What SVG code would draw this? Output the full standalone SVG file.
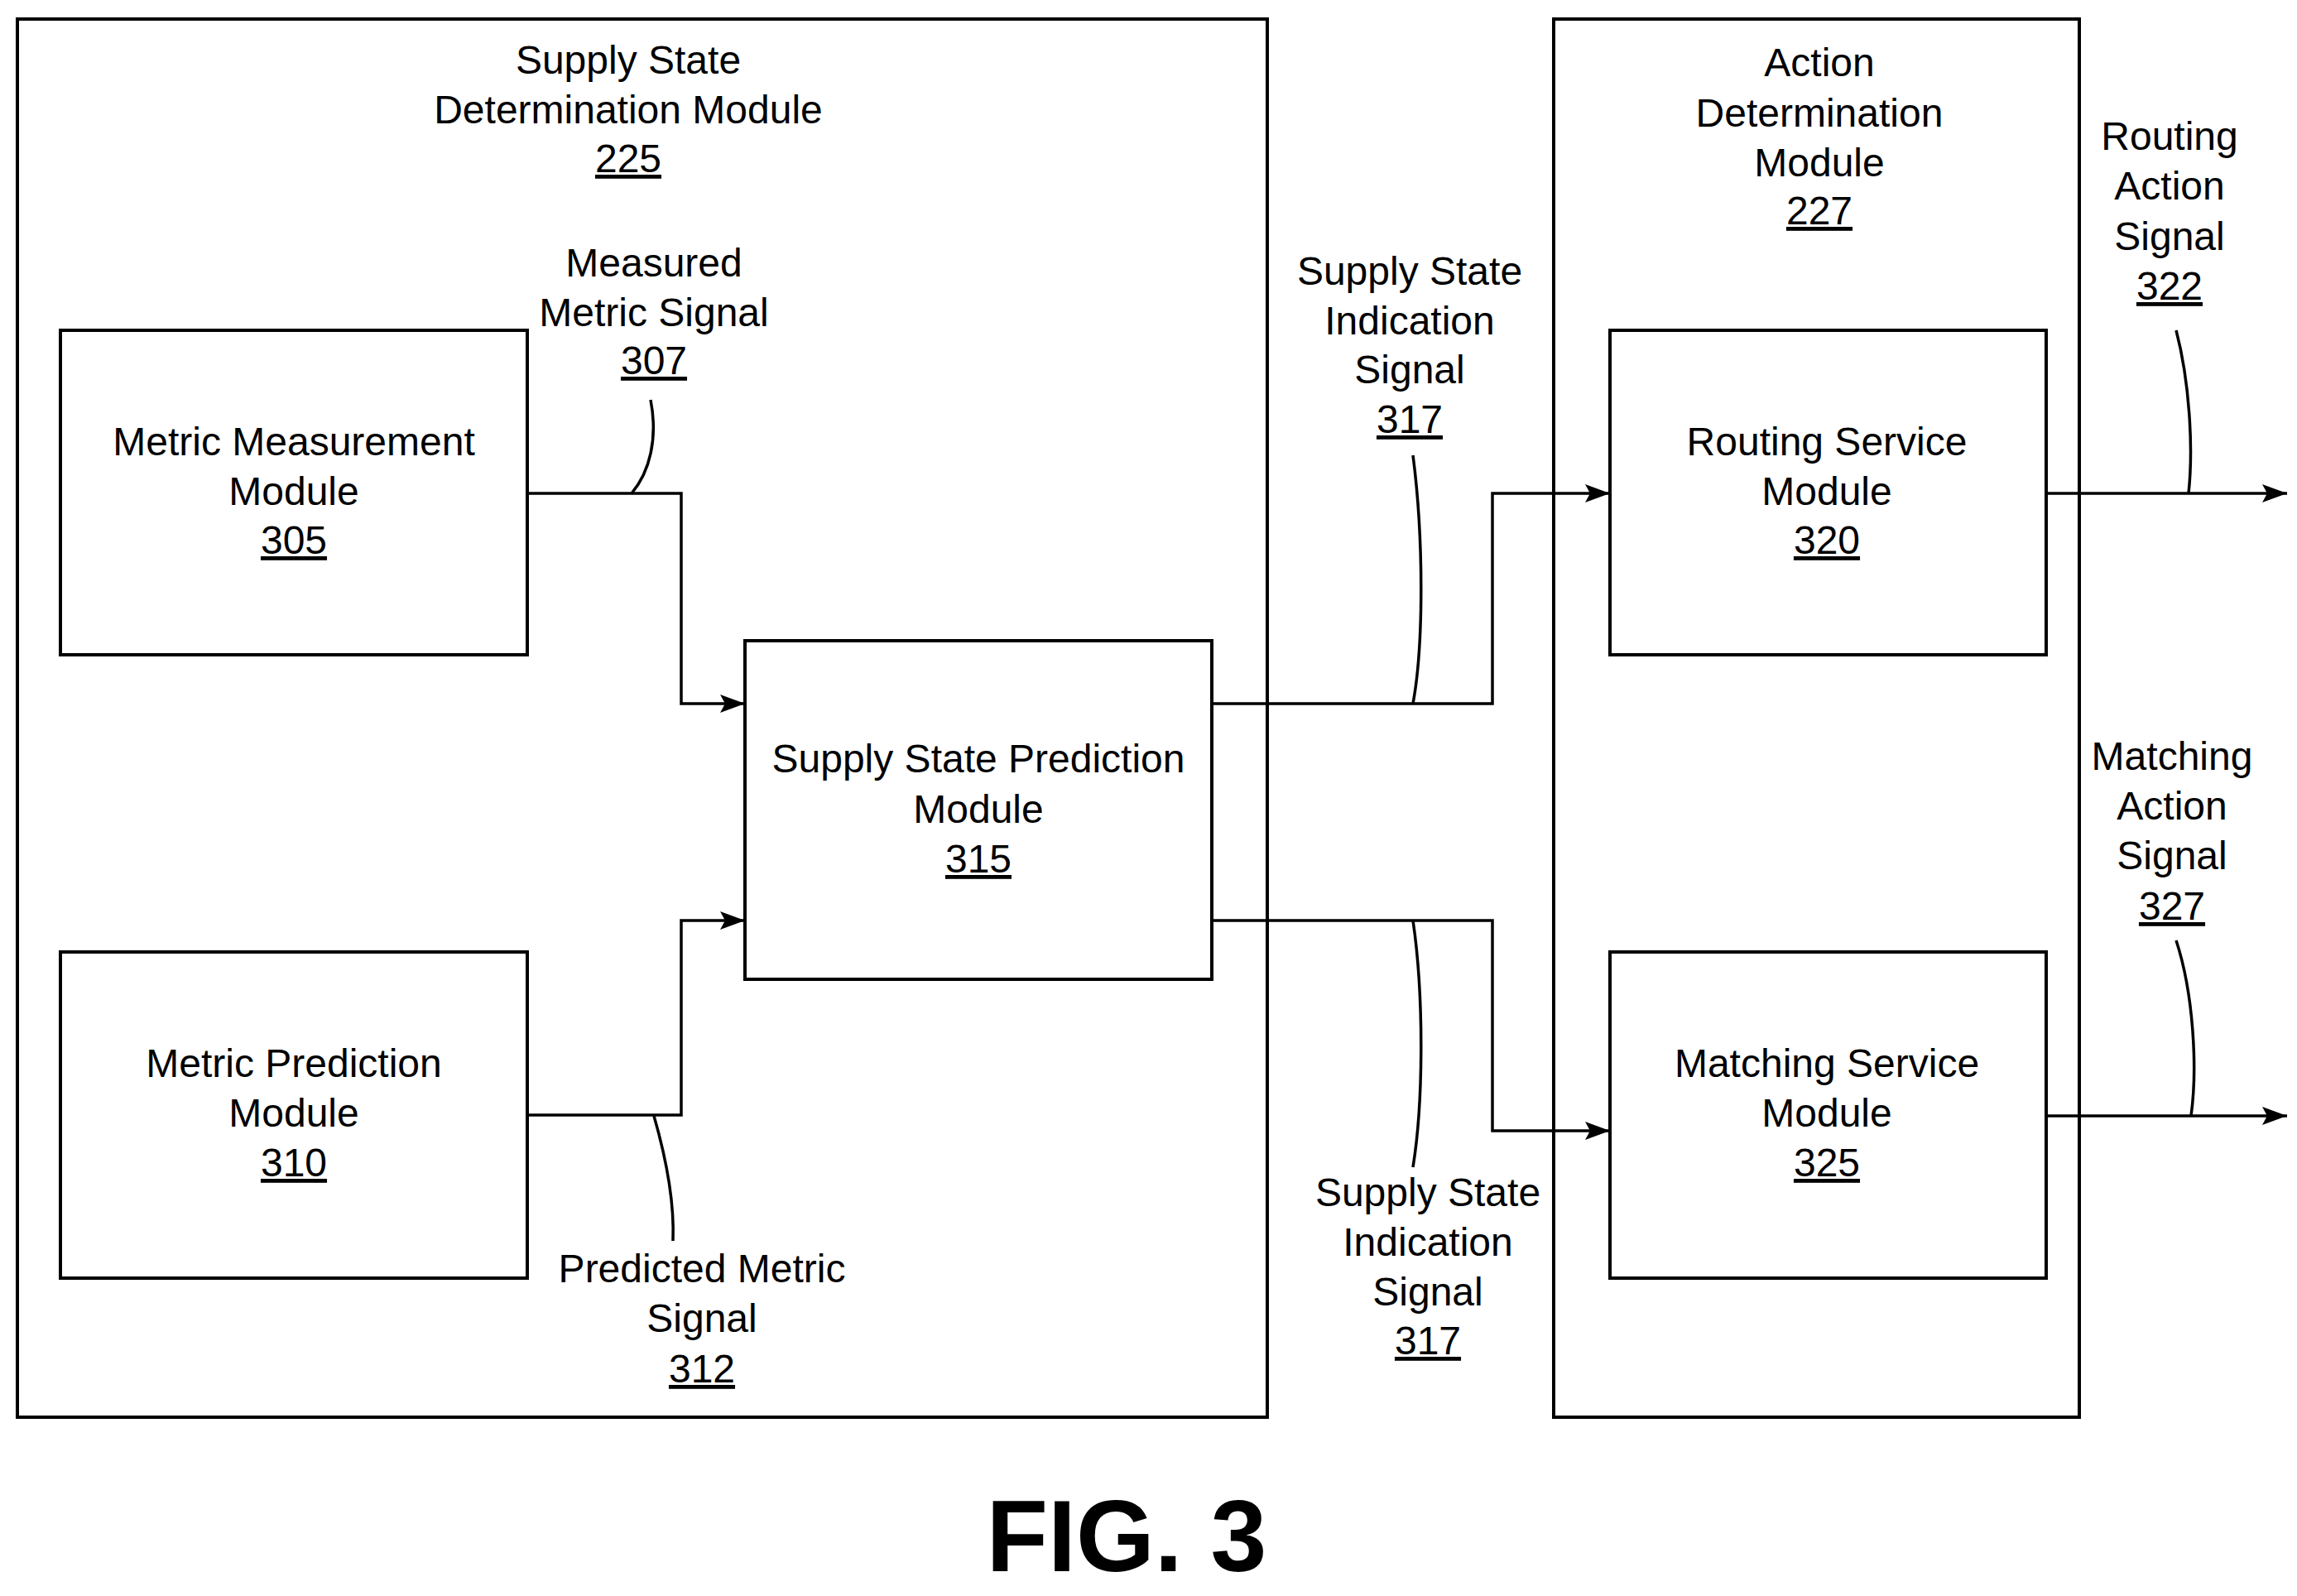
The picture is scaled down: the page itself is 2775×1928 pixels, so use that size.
<svg xmlns="http://www.w3.org/2000/svg" width="2775" height="1928" viewBox="0 0 2775 1928">
<defs>
<style>
.b{fill:none;stroke:#000;stroke-width:4}
.c{fill:none;stroke:#000;stroke-width:3.5}
text{font-family:"Liberation Sans",Arial,sans-serif;font-size:48px;text-anchor:middle;fill:#000}
.u{text-decoration:underline}
</style>
<marker id="ah" viewBox="0 0 10 10" refX="10" refY="5" markerWidth="30" markerHeight="22" markerUnits="userSpaceOnUse" orient="auto" preserveAspectRatio="none"><path d="M0,0L10,5L0,10L2,5Z" fill="#000"/></marker>
</defs>
<rect width="2775" height="1928" fill="#fff"/>
<g id="supply-state-determination"><rect class="b" x="21" y="23" width="1510" height="1689"/>
<text x="759" y="89">Supply State</text><text x="759" y="149">Determination Module</text><text x="759" y="208" class="u">225</text></g>
<g id="action-determination"><rect class="b" x="1877" y="23" width="635" height="1689"/>
<text x="2198" y="92">Action</text><text x="2198" y="153">Determination</text><text x="2198" y="213">Module</text><text x="2198" y="271" class="u">227</text></g>
<g id="metric-measurement"><rect class="b" x="73" y="399" width="564" height="392"/>
<text x="355" y="550">Metric Measurement</text><text x="355" y="610">Module</text><text x="355" y="669" class="u">305</text></g>
<g id="metric-prediction"><rect class="b" x="73" y="1150" width="564" height="394"/>
<text x="355" y="1301">Metric Prediction</text><text x="355" y="1361">Module</text><text x="355" y="1421" class="u">310</text></g>
<g id="supply-state-prediction"><rect class="b" x="900" y="774" width="564" height="409"/>
<text x="1182" y="933">Supply State Prediction</text><text x="1182" y="994">Module</text><text x="1182" y="1054" class="u">315</text></g>
<g id="routing-service"><rect class="b" x="1945" y="399" width="527" height="392"/>
<text x="2207" y="550">Routing Service</text><text x="2207" y="610">Module</text><text x="2207" y="669" class="u">320</text></g>
<g id="matching-service"><rect class="b" x="1945" y="1150" width="527" height="394"/>
<text x="2207" y="1301">Matching Service</text><text x="2207" y="1361">Module</text><text x="2207" y="1421" class="u">325</text></g>
<g id="connectors">
<path class="c" d="M637,596H823V850H900" marker-end="url(#ah)"/>
<path class="c" d="M637,1347H823V1112H900" marker-end="url(#ah)"/>
<path class="c" d="M1464,850H1803V596H1945" marker-end="url(#ah)"/>
<path class="c" d="M1464,1112H1803V1366H1945" marker-end="url(#ah)"/>
<path class="c" d="M2472,596H2763" marker-end="url(#ah)"/>
<path class="c" d="M2472,1348H2763" marker-end="url(#ah)"/>
<path class="c" d="M786,483C795,530 785,570 763,596"/>
<path class="c" d="M790,1348C805,1400 815,1450 813,1499"/>
<path class="c" d="M1707,550C1720,650 1720,780 1707,850"/>
<path class="c" d="M1707,1112C1720,1200 1720,1330 1707,1410"/>
<path class="c" d="M2629,399C2645,460 2650,540 2644,596"/>
<path class="c" d="M2629,1136C2650,1200 2655,1290 2647,1348"/>
</g>
<g id="labels">
<text x="790" y="334">Measured</text><text x="790" y="394">Metric Signal</text><text x="790" y="452" class="u">307</text>
<text x="848" y="1549">Predicted Metric</text><text x="848" y="1609">Signal</text><text x="848" y="1670" class="u">312</text>
<text x="1703" y="344">Supply State</text><text x="1703" y="404">Indication</text><text x="1703" y="463">Signal</text><text x="1703" y="523" class="u">317</text>
<text x="1725" y="1457">Supply State</text><text x="1725" y="1517">Indication</text><text x="1725" y="1577">Signal</text><text x="1725" y="1636" class="u">317</text>
<text x="2621" y="181">Routing</text><text x="2621" y="241">Action</text><text x="2621" y="302">Signal</text><text x="2621" y="362" class="u">322</text>
<text x="2624" y="930">Matching</text><text x="2624" y="990">Action</text><text x="2624" y="1050">Signal</text><text x="2624" y="1111" class="u">327</text>
<text x="1361" y="1898" style="font-size:122px;font-weight:bold">FIG. 3</text>
</g>
</svg>
